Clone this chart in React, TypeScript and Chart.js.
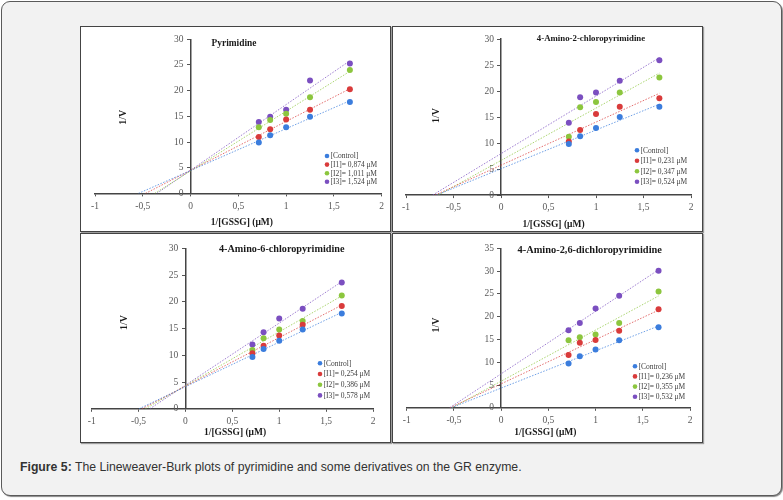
import { useEffect, useRef } from "react";
import { Chart, registerables } from "chart.js";

Chart.register(...registerables);

// 1/[GSSG] values (1/1.4, 1/1.2, 1/1.0, 1/0.8, 1/0.6)
const inverseGssg = [0.714, 0.833, 1, 1.25, 1.667];

const seriesColors = ["#3b7ddd", "#d93b3b", "#8cc63e", "#7b4fc0"];

// Pyrimidine
const pyrControl = [9.9, 11.3, 12.9, 14.9, 17.8];
const pyrI1 = [11.0, 12.5, 14.4, 16.3, 20.3];
const pyrI2 = [12.9, 14.3, 15.5, 18.7, 24.0];
const pyrI3 = [13.9, 14.9, 16.3, 22.0, 25.3];
const pyrLabels = ["[Control]", "[I1]= 0,874 μM", "[I2]= 1,011 μM", "[I3]= 1,524 μM"];

// 4-Amino-2-chloropyrimidine
const a2cControl = [9.8, 11.3, 12.9, 15.0, 17.0];
const a2cI1 = [10.3, 12.5, 15.6, 17.0, 18.6];
const a2cI2 = [11.2, 16.9, 17.9, 19.7, 22.6];
const a2cI3 = [13.9, 18.8, 19.7, 22.0, 25.9];
const a2cLabels = ["[Control]", "[I1]= 0,231 μM", "[I2]= 0,347 μM", "[I3]= 0,524 μM"];

// 4-Amino-6-chloropyrimidine
const a6cControl = [9.7, 11.2, 12.7, 14.8, 17.8];
const a6cI1 = [10.4, 11.8, 13.7, 15.7, 19.2];
const a6cI2 = [11.0, 13.2, 14.8, 16.4, 21.2];
const a6cI3 = [12.0, 14.3, 16.9, 18.7, 23.6];
const a6cLabels = ["[Control]", "[I1]= 0,254 μM", "[I2]= 0,386 μM", "[I3]= 0,578 μM"];

// 4-Amino-2,6-dichloropyrimidine
const a26Control = [9.7, 11.3, 12.8, 14.8, 17.7];
const a26I1 = [11.6, 14.3, 14.9, 16.9, 21.6];
const a26I2 = [14.8, 15.5, 16.1, 18.6, 25.5];
const a26I3 = [17.0, 18.6, 21.8, 24.6, 30.1];
const a26Labels = ["[Control]", "[I1]= 0,236 μM", "[I2]= 0,355 μM", "[I3]= 0,532 μM"];

const SERIF = '"Liberation Serif", "Times New Roman", serif';

// height of the x axis (tick + label) under the plot area
const X_AXIS_H = 23.5;

// least squares line, like Excel's linear trendline
function fitLine(xs: number[], ys: number[]) {
  const n = xs.length;
  const mx = xs.reduce((s, v) => s + v, 0) / n;
  const my = ys.reduce((s, v) => s + v, 0) / n;
  let sxy = 0;
  let sxx = 0;
  xs.forEach((x, i) => {
    sxy += (x - mx) * (ys[i] - my);
    sxx += (x - mx) * (x - mx);
  });
  const slope = sxy / sxx;
  return { slope, intercept: my - slope * mx };
}

type PanelProps = {
  title: string;
  series: number[][];
  labels: string[];
  yMax: number;
  left: number;
  top: number;
  width: number;
  height: number;
  inset: [number, number, number, number];
  titleSize: number;
  titlePos: [number, number];
  yTitlePos: [number, number];
  xTitlePos: [number, number];
  legendPos: [number, number, number];
};

function Panel(props: PanelProps) {
  const canvasRef = useRef<HTMLCanvasElement>(null);

  useEffect(() => {
    if (!canvasRef.current) return;
    const { series, labels, inset } = props;

    const datasets: any[] = [];
    series.forEach((ys, i) => {
      const { slope, intercept } = fitLine(inverseGssg, ys);
      const xEnd = inverseGssg[inverseGssg.length - 1];
      datasets.push({
        label: labels[i] + " (trend)",
        data: [
          { x: -intercept / slope, y: 0 },
          { x: xEnd, y: intercept + slope * xEnd },
        ],
        showLine: true,
        borderColor: seriesColors[i] + "bb",
        borderWidth: 1,
        borderDash: [1.5, 1.5],
        pointRadius: 0,
        order: 2,
      });
    });
    series.forEach((ys, i) => {
      datasets.push({
        label: labels[i],
        data: ys.map((y, j) => ({ x: inverseGssg[j], y })),
        backgroundColor: seriesColors[i],
        borderColor: seriesColors[i],
        borderWidth: 0,
        pointRadius: 3,
        order: 1,
      });
    });

    const overlay = {
      id: "overlay",
      afterDraw(chart: any) {
        const { ctx, chartArea: a } = chart;
        ctx.save();
        ctx.fillStyle = "#1a1a1a";
        ctx.textAlign = "center";
        ctx.textBaseline = "middle";

        ctx.font = `bold ${props.titleSize}px ${SERIF}`;
        ctx.fillText(props.title, a.left + props.titlePos[0], a.top + props.titlePos[1]);

        ctx.font = `bold 9.5px ${SERIF}`;
        ctx.fillText(
          "1/[GSSG] (μM)",
          (a.left + a.right) / 2 + props.xTitlePos[0],
          a.bottom + props.xTitlePos[1]
        );

        ctx.save();
        ctx.translate(a.left + props.yTitlePos[0], (a.top + a.bottom) / 2 + props.yTitlePos[1]);
        ctx.rotate(-Math.PI / 2);
        ctx.font = `bold 10px ${SERIF}`;
        ctx.fillText("1/V", 0, 0);
        ctx.restore();

        // legend, bottom right inside the plot
        const [lx, lb, step] = props.legendPos;
        ctx.font = `7.5px ${SERIF}`;
        ctx.textAlign = "left";
        labels.forEach((label, i) => {
          const cx = a.right - lx;
          const cy = a.bottom - lb - (labels.length - 1 - i) * step;
          ctx.fillStyle = seriesColors[i];
          ctx.beginPath();
          ctx.arc(cx, cy, 2.3, 0, Math.PI * 2);
          ctx.fill();
          ctx.fillStyle = "#404040";
          ctx.fillText(label, cx + 3.5, cy + 0.5);
        });
        ctx.restore();
      },
    };

    const tickFont = { family: SERIF, size: 9.5 };
    const chart = new Chart(canvasRef.current, {
      type: "scatter",
      data: { datasets },
      options: {
        animation: false,
        responsive: true,
        maintainAspectRatio: false,
        // chart.js takes the larger of this and the tick label overhang
        layout: {
          padding: {
            left: inset[0],
            top: inset[1],
            right: inset[2],
            bottom: inset[3] - X_AXIS_H,
          },
        },
        plugins: {
          legend: { display: false },
          tooltip: { enabled: false },
        },
        scales: {
          x: {
            type: "linear",
            position: "bottom",
            min: -1,
            max: 2,
            ticks: {
              stepSize: 0.5,
              padding: 4,
              color: "#595959",
              font: tickFont,
              callback: (v: any) => String(v).replace(".", ","),
            },
            grid: { drawOnChartArea: false, tickLength: 3, color: "#555" },
            border: { color: "#444", width: 1.5 },
          },
          y: {
            type: "linear",
            position: { x: 0 },
            min: 0,
            max: props.yMax,
            ticks: {
              stepSize: 5,
              color: "#595959",
              font: tickFont,
              // a centred axis ignores tick padding, so keep labels off the line
              callback: (v: any) => String(v) + "\u00a0\u00a0\u00a0",
            },
            grid: { drawOnChartArea: false, tickLength: 3, color: "#555" },
            border: { color: "#444", width: 1.5 },
          },
        },
      } as any,
      plugins: [overlay],
    });

    return () => chart.destroy();
  }, []);

  return (
    <div
      style={{
        position: "absolute",
        left: props.left,
        top: props.top,
        width: props.width,
        height: props.height,
        boxSizing: "border-box",
        border: "1px solid #444",
        boxShadow: "1px 1px 1px rgba(0,0,0,0.35)",
        background: "#fff",
      }}
    >
      <div style={{ position: "relative", width: props.width - 2, height: props.height - 2 }}>
        <canvas ref={canvasRef} />
      </div>
    </div>
  );
}

export default function App() {
  return (
    <div style={{ position: "absolute", left: 0, top: 0, width: 783, height: 500, background: "#fff" }}>
      <div
        style={{
          position: "absolute",
          left: 1,
          top: 1,
          width: 781,
          height: 495,
          boxSizing: "border-box",
          border: "1px solid #5a5a5a",
          borderRadius: 9,
          boxShadow: "1px 1px 1px #888",
          background: "#f2f2f2",
        }}
      />
      <Panel
        title="Pyrimidine"
        series={[pyrControl, pyrI1, pyrI2, pyrI3]}
        labels={pyrLabels}
        yMax={30}
        left={80}
        top={26}
        width={311}
        height={206}
        inset={[14, 12.3, 8.3, 38.7]}
        titleSize={9.4}
        titlePos={[139, 4.7]}
        yTitlePos={[28, 1]}
        xTitlePos={[3.5, 28.7]}
        legendPos={[54.7, 11.6, 8.6]}
      />
      <Panel
        title="4-Amino-2-chloropyrimidine"
        series={[a2cControl, a2cI1, a2cI2, a2cI3]}
        labels={a2cLabels}
        yMax={30}
        left={392}
        top={26}
        width={311}
        height={206}
        inset={[13, 12, 11, 37]}
        titleSize={8.8}
        titlePos={[185, 0]}
        yTitlePos={[30.7, -1.5]}
        xTitlePos={[5, 29.3]}
        legendPos={[54, 13.3, 10.5]}
      />
      <Panel
        title="4-Amino-6-chloropyrimidine"
        series={[a6cControl, a6cI1, a6cI2, a6cI3]}
        labels={a6cLabels}
        yMax={30}
        left={80}
        top={233}
        width={311}
        height={210}
        inset={[10.7, 14.3, 17, 34.3]}
        titleSize={10.2}
        titlePos={[190, 0.7]}
        yTitlePos={[33, -6]}
        xTitlePos={[2.7, 24]}
        legendPos={[53, 13.4, 10.7]}
      />
      <Panel
        title="4-Amino-2,6-dichloropyrimidine"
        series={[a26Control, a26I1, a26I2, a26I3]}
        labels={a26Labels}
        yMax={35}
        left={392}
        top={233}
        width={311}
        height={210}
        inset={[13.7, 14.3, 12, 35.3]}
        titleSize={10.4}
        titlePos={[183, 1.7]}
        yTitlePos={[30, -3]}
        xTitlePos={[-3, 24.3]}
        legendPos={[55, 11, 10.2]}
      />
      <div
        style={{
          position: "absolute",
          left: 20,
          top: 460,
          fontFamily: '"Liberation Sans", Arial, sans-serif',
          fontSize: 12.25,
          color: "#333",
          whiteSpace: "nowrap",
        }}
      >
        <b>Figure 5:</b> The Lineweaver-Burk plots of pyrimidine and some derivatives on the GR enzyme.
      </div>
    </div>
  );
}
